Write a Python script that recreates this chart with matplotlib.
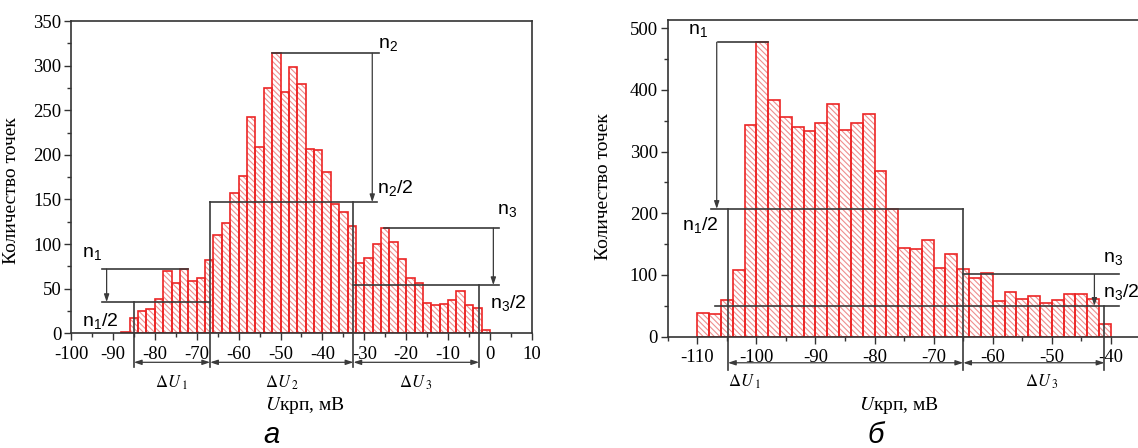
import numpy as np
import matplotlib.pyplot as plt
from matplotlib.ticker import MultipleLocator

plt.rcParams['font.family'] = 'serif'
plt.rcParams['font.serif'] = ['Liberation Serif', 'DejaVu Serif']
plt.rcParams['mathtext.fontset'] = 'stix'
plt.rcParams['axes.unicode_minus'] = False
plt.rcParams['hatch.linewidth'] = 0.8

# histogram (a): 2 mV bins starting at -88 mV
counts_a = [2, 17, 25, 27, 38, 70, 56, 72, 59, 62, 82, 110, 124, 157, 176,
            243, 209, 275, 314, 271, 298, 279, 207, 206, 181, 145, 136, 120,
            79, 84, 100, 118, 102, 83, 62, 56, 34, 32, 33, 37, 47, 32, 28, 4]
# histogram (б): 2 mV bins starting at -110 mV
counts_b = [38, 36, 59, 108, 343, 477, 384, 356, 340, 333, 347, 377, 335, 347,
            360, 269, 207, 143, 142, 156, 111, 134, 109, 95, 103, 58, 72, 61,
            66, 54, 59, 69, 70, 61, 20]
bin_w = 2
start_a = -88
start_b = -110

# levels n_i and n_i/2, and interval borders
peaks_a = [72, 314, 118]
halves_a = [35, 147, 54]
bounds_a = [-85, -66.8, -32.6, -2.6]
peaks_b = [477, 101]
halves_b = [207, 50]
bounds_b = [-104.8, -65, -41.1]

line_c = '#3a3a3a'
sans = 'Liberation Sans'

fig = plt.figure(figsize=(11.38, 4.48), dpi=100)
ax1 = fig.add_axes([0.0624, 0.256, 0.405, 0.697])
ax2 = fig.add_axes([0.5867, 0.2484, 0.4155, 0.7069])


def draw_hist(ax, start, counts):
    left = start + bin_w * np.arange(len(counts))
    ax.bar(left, counts, width=bin_w, align='edge', color='white',
           edgecolor='#ef8e8e', hatch='\\' * 6, linewidth=0)
    ax.bar(left, counts, width=bin_w, align='edge', fill=False,
           edgecolor='#ec2525', linewidth=1.2)


def hline(ax, x0, x1, y):
    ax.plot([x0, x1], [y, y], color=line_c, lw=1.2, clip_on=False, zorder=5)


def vline(ax, x, y0, y1):
    ax.plot([x, x], [y0, y1], color=line_c, lw=1.2, clip_on=False, zorder=5)


def down_arrow(ax, x, y0, y1):
    ax.annotate('', xy=(x, y1), xytext=(x, y0), annotation_clip=False,
                arrowprops=dict(arrowstyle='-|>,head_length=0.45,head_width=0.15',
                                color=line_c, lw=0.9, shrinkA=0, shrinkB=0))


def span_arrow(ax, x0, x1, y):
    ax.annotate('', xy=(x1, y), xytext=(x0, y), annotation_clip=False,
                arrowprops=dict(arrowstyle='<|-|>,head_length=0.45,head_width=0.15',
                                color=line_c, lw=0.9, shrinkA=0, shrinkB=0))


def style_axes(ax):
    for s in ax.spines.values():
        s.set_color('#333333')
        s.set_linewidth(1.2)
    ax.tick_params(which='both', direction='out', color='#333333', width=1)
    ax.tick_params(which='major', length=5, labelsize=13.5)
    ax.tick_params(which='minor', length=3)
    ax.tick_params(axis='x', pad=4)
    ax.tick_params(axis='y', pad=2)


def nlabel(ax, x, y, s):
    ax.text(x, y, s, family=sans, fontsize=14, ha='left', va='baseline',
            clip_on=False)


# ---- chart a ----
draw_hist(ax1, start_a, counts_a)
ax1.set_xlim(-100, 10)
ax1.set_ylim(0, 350)
ax1.xaxis.set_major_locator(MultipleLocator(10))
ax1.xaxis.set_minor_locator(MultipleLocator(5))
ax1.yaxis.set_major_locator(MultipleLocator(50))
ax1.yaxis.set_minor_locator(MultipleLocator(25))
style_axes(ax1)

below_a = -37.4
arr_a = -32.5
hline(ax1, -92.7, -72, peaks_a[0])
hline(ax1, -92.7, bounds_a[1], halves_a[0])
down_arrow(ax1, -91.5, peaks_a[0], halves_a[0])
hline(ax1, -52, -26.6, peaks_a[1])
hline(ax1, bounds_a[1], -26.9, halves_a[1])
down_arrow(ax1, -28.1, peaks_a[1], halves_a[1])
hline(ax1, -25.3, 2.2, peaks_a[2])
hline(ax1, bounds_a[2], 2.2, halves_a[2])
down_arrow(ax1, 0.8, peaks_a[2], halves_a[2])
vline(ax1, bounds_a[0], halves_a[0], below_a)
vline(ax1, bounds_a[1], halves_a[1], below_a)
vline(ax1, bounds_a[2], halves_a[1], below_a)
vline(ax1, bounds_a[3], halves_a[2], below_a)
for i in range(3):
    span_arrow(ax1, bounds_a[i], bounds_a[i + 1], arr_a)
    ax1.text((bounds_a[i] + bounds_a[i + 1]) / 2, -56, r'$\Delta U_{\ %d}$' % (i + 1),
             fontsize=12, ha='center', va='center', clip_on=False)

nlabel(ax1, -97.4, 85, r'$\mathregular{n_1}$')
nlabel(ax1, -97.4, 8, r'$\mathregular{n_1/2}$')
nlabel(ax1, -26.7, 320, r'$\mathregular{n_2}$')
nlabel(ax1, -27, 157, r'$\mathregular{n_2/2}$')
nlabel(ax1, 1.6, 134, r'$\mathregular{n_3}$')
nlabel(ax1, 0, 28, r'$\mathregular{n_3/2}$')

ax1.set_ylabel('Количество точек', fontsize=14)
ax1.yaxis.set_label_coords(-0.11, 0.458)

# ---- chart б ----
draw_hist(ax2, start_b, counts_b)
ax2.set_xlim(-115, -35)
ax2.set_ylim(0, 513)
ax2.xaxis.set_major_locator(MultipleLocator(10))
ax2.xaxis.set_minor_locator(MultipleLocator(5))
ax2.yaxis.set_major_locator(MultipleLocator(100))
ax2.yaxis.set_minor_locator(MultipleLocator(50))
ax2.set_xticks(np.arange(-110, -39, 10))
style_axes(ax2)

below_b = -54
arr_b = -42.2
hline(ax2, -106.5, -98, peaks_b[0])
hline(ax2, -107.6, bounds_b[1], halves_b[0])
down_arrow(ax2, -106.7, peaks_b[0], halves_b[0])
hline(ax2, bounds_b[1], -38.7, peaks_b[1])
hline(ax2, -107, -38.7, halves_b[1])
down_arrow(ax2, -42.8, peaks_b[1], halves_b[1])
vline(ax2, bounds_b[0], halves_b[0], below_b)
vline(ax2, bounds_b[1], halves_b[0], below_b)
vline(ax2, bounds_b[2], halves_b[1], below_b)
span_arrow(ax2, bounds_b[0], bounds_b[1], arr_b)
span_arrow(ax2, bounds_b[1], bounds_b[2], arr_b)
ax2.text(-101.9, -73, r'$\Delta U_{\ 1}$', fontsize=12, ha='center', va='center', clip_on=False)
ax2.text(-51.7, -73, r'$\Delta U_{\ 3}$', fontsize=12, ha='center', va='center', clip_on=False)

nlabel(ax2, -111.5, 491, r'$\mathregular{n_1}$')
nlabel(ax2, -112.6, 173, r'$\mathregular{n_1/2}$')
nlabel(ax2, -41.3, 121, r'$\mathregular{n_3}$')
nlabel(ax2, -41.3, 65, r'$\mathregular{n_3/2}$')

ax2.set_ylabel('Количество точек', fontsize=14)
ax2.yaxis.set_label_coords(-0.118, 0.473)

# axis titles and panel letters
fig.text(305 / 1138, 1 - 405 / 448, r'$U$крп, мВ', fontsize=14, ha='center', va='center')
fig.text(899 / 1138, 1 - 405 / 448, r'$U$крп, мВ', fontsize=14, ha='center', va='center')
fig.text(271 / 1138, 1 - 443 / 448, 'а', family=sans, style='italic', fontsize=21,
         ha='center', va='baseline')
fig.text(876 / 1138, 1 - 443 / 448, 'б', family=sans, style='italic', fontsize=21,
         ha='center', va='baseline')

fig.savefig('out.png', dpi=100)
